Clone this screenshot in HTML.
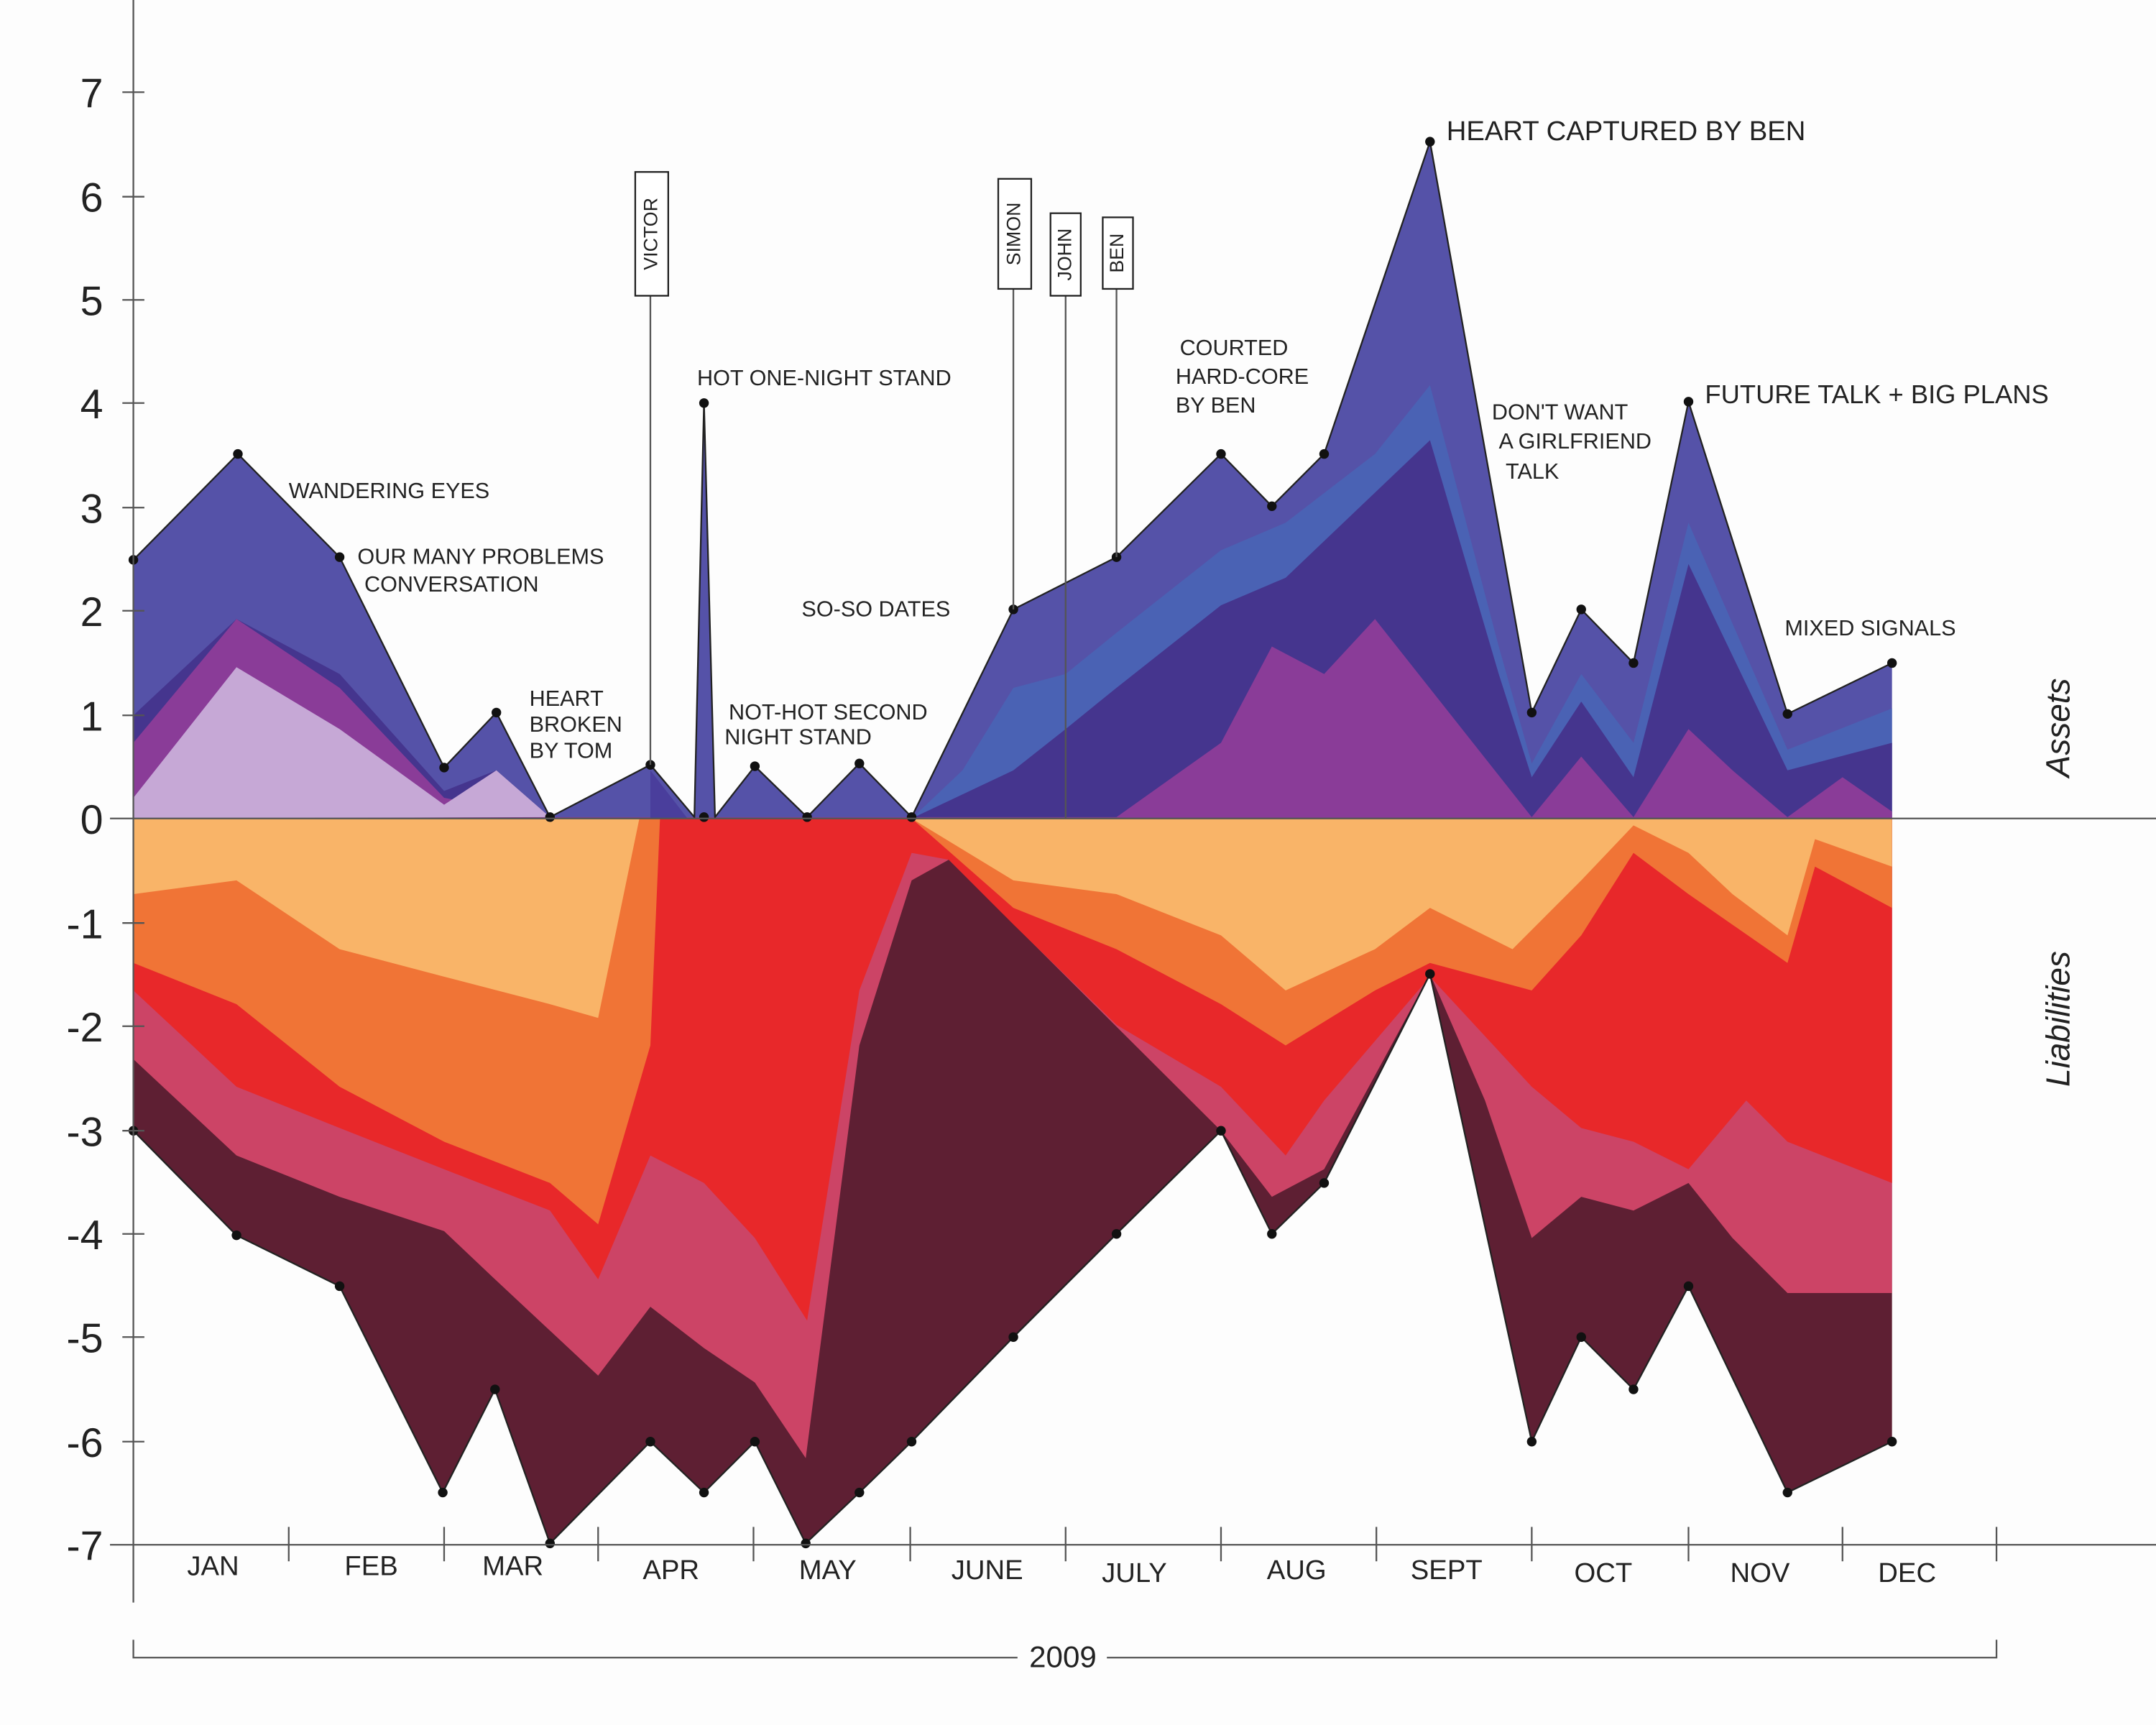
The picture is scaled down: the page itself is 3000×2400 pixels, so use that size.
<!DOCTYPE html><html><head><style>body{margin:0;background:#fff}svg{display:block}text{font-family:"Liberation Sans",sans-serif;fill:#222}</style></head><body>
<svg width="3000" height="2400" viewBox="0 0 1568 1254" preserveAspectRatio="none" xmlns="http://www.w3.org/2000/svg">
<rect width="1568" height="1254" fill="#fdfdfd"/>
<!-- assets -->
<polygon fill="#5552a8" points="97,595 97,407 173,330 247,405 323,558 361,518 400,594 473,556 505,594 512,293 520,594 549,557 587,594 625,555 663,594 737,443 812,405 888,330 925,368 963,330 1040,103 1114,518 1150,443 1188,482 1228,292 1300,519 1376,482 1376,595"/>
<polygon fill="#4a62b4" points="663,595 700,560 737,500 775,490 812,460 888,400 935,380 1000,330 1040,280 1090,470 1114,555 1150,490 1188,540 1228,380 1300,545 1376,515 1376,595"/>
<polygon fill="#45358e" points="97,595 97,520 172,450 247,490 323,575 361,560 400,594 663,595 737,560 775,530 812,500 888,440 935,420 1040,320 1090,490 1114,565 1150,510 1188,565 1228,410 1300,560 1376,540 1376,595"/>
<polygon fill="#8a3c98" points="97,595 97,540 172,450 247,500 323,580 400,594 812,594 888,540 925,470 963,490 1000,450 1114,594 1150,550 1188,594 1228,530 1260,560 1300,594 1340,565 1376,590 1376,595"/>
<polygon fill="#c6a8d6" points="97,595 97,580 172,485 247,530 323,585 361,560 400,594"/>
<polygon fill="#4a3e9c" points="473,595 473,560 500,595"/>
<!-- liabilities -->
<polygon fill="#5e1f33" points="97,595 97,822 172,898 247,935 322,1085 360,1010 400,1122 473,1048 512,1085 549,1048 586,1122 625,1085 663,1048 737,972 812,897 888,822 925,897 963,860 1040,708 1114,1048 1150,972 1188,1010 1228,935 1300,1085 1376,1048 1376,595"/>
<polygon fill="#cc4466" points="97,595 97,770 172,840 247,870 323,895 360,930 435,1000 473,950 512,980 549,1005 586,1060 625,760 663,640 690,625 888,822 925,870 963,850 1040,708 1080,800 1114,900 1150,870 1188,880 1228,860 1260,900 1300,940 1376,940 1376,595"/>
<polygon fill="#e8282a" points="97,595 97,720 172,790 247,820 323,850 400,880 435,930 473,840 512,860 549,900 587,960 625,720 663,620 690,625 737,672 812,745 888,790 935,840 963,800 1040,710 1114,790 1150,820 1188,830 1228,850 1270,800 1300,830 1376,860 1376,595"/>
<polygon fill="#f07436" points="97,595 97,700 172,730 247,790 323,830 400,860 435,890 473,760 480,595 663,595 737,660 812,690 888,730 935,760 1000,720 1040,700 1114,720 1150,680 1188,620 1228,650 1300,700 1320,630 1376,660 1376,595"/>
<polygon fill="#f9b468" points="97,595 97,650 172,640 247,690 323,710 400,730 435,740 465,595 663,595 737,640 812,650 888,680 935,720 1000,690 1040,660 1100,690 1150,640 1188,600 1228,620 1260,650 1300,680 1320,610 1376,630 1376,595"/>
<!-- envelope lines -->
<polyline fill="none" stroke="#222" stroke-width="1.2" points="97,407 173,330 247,405 323,558 361,518 400,594 473,556 505,594 512,293 520,594 549,557 587,594 625,555 663,594 737,443 812,405 888,330 925,368 963,330 1040,103 1114,518 1150,443 1188,482 1228,292 1300,519 1376,482"/>
<polyline fill="none" stroke="#222" stroke-width="1.2" points="97,822 172,898 247,935 322,1085 360,1010 400,1122 473,1048 512,1085 549,1048 586,1122 625,1085 663,1048 737,972 812,897 888,822 925,897 963,860 1040,708 1114,1048 1150,972 1188,1010 1228,935 1300,1085 1376,1048"/>
<g fill="#111">
<circle cx="97" cy="407" r="3.5"/><circle cx="173" cy="330" r="3.5"/><circle cx="247" cy="405" r="3.5"/><circle cx="323" cy="558" r="3.5"/><circle cx="361" cy="518" r="3.5"/><circle cx="400" cy="594" r="3.5"/><circle cx="473" cy="556" r="3.5"/><circle cx="512" cy="293" r="3.5"/><circle cx="512" cy="594" r="3.5"/><circle cx="549" cy="557" r="3.5"/><circle cx="587" cy="594" r="3.5"/><circle cx="625" cy="555" r="3.5"/><circle cx="663" cy="594" r="3.5"/><circle cx="737" cy="443" r="3.5"/><circle cx="812" cy="405" r="3.5"/><circle cx="888" cy="330" r="3.5"/><circle cx="925" cy="368" r="3.5"/><circle cx="963" cy="330" r="3.5"/><circle cx="1040" cy="103" r="3.5"/><circle cx="1114" cy="518" r="3.5"/><circle cx="1150" cy="443" r="3.5"/><circle cx="1188" cy="482" r="3.5"/><circle cx="1228" cy="292" r="3.5"/><circle cx="1300" cy="519" r="3.5"/><circle cx="1376" cy="482" r="3.5"/>
<circle cx="97" cy="822" r="3.5"/><circle cx="172" cy="898" r="3.5"/><circle cx="247" cy="935" r="3.5"/><circle cx="322" cy="1085" r="3.5"/><circle cx="360" cy="1010" r="3.5"/><circle cx="400" cy="1122" r="3.5"/><circle cx="473" cy="1048" r="3.5"/><circle cx="512" cy="1085" r="3.5"/><circle cx="549" cy="1048" r="3.5"/><circle cx="586" cy="1122" r="3.5"/><circle cx="625" cy="1085" r="3.5"/><circle cx="663" cy="1048" r="3.5"/><circle cx="737" cy="972" r="3.5"/><circle cx="812" cy="897" r="3.5"/><circle cx="888" cy="822" r="3.5"/><circle cx="925" cy="897" r="3.5"/><circle cx="963" cy="860" r="3.5"/><circle cx="1040" cy="708" r="3.5"/><circle cx="1114" cy="1048" r="3.5"/><circle cx="1150" cy="972" r="3.5"/><circle cx="1188" cy="1010" r="3.5"/><circle cx="1228" cy="935" r="3.5"/><circle cx="1300" cy="1085" r="3.5"/><circle cx="1376" cy="1048" r="3.5"/>
</g>
<!-- axes -->
<g stroke="#555" stroke-width="1.2">
<line x1="97" y1="0" x2="97" y2="1165"/>
<line x1="80" y1="595" x2="1568" y2="595"/>
<line x1="80" y1="1123" x2="1568" y2="1123"/>
<line x1="89" y1="67" x2="105" y2="67"/><line x1="89" y1="143" x2="105" y2="143"/><line x1="89" y1="218" x2="105" y2="218"/><line x1="89" y1="293" x2="105" y2="293"/><line x1="89" y1="369" x2="105" y2="369"/><line x1="89" y1="444" x2="105" y2="444"/><line x1="89" y1="520" x2="105" y2="520"/>
<line x1="89" y1="671" x2="105" y2="671"/><line x1="89" y1="746" x2="105" y2="746"/><line x1="89" y1="822" x2="105" y2="822"/><line x1="89" y1="897" x2="105" y2="897"/><line x1="89" y1="972" x2="105" y2="972"/><line x1="89" y1="1048" x2="105" y2="1048"/>
<line x1="210" y1="1110" x2="210" y2="1135"/><line x1="323" y1="1110" x2="323" y2="1135"/><line x1="435" y1="1110" x2="435" y2="1135"/><line x1="548" y1="1110" x2="548" y2="1135"/><line x1="662" y1="1110" x2="662" y2="1135"/><line x1="775" y1="1110" x2="775" y2="1135"/><line x1="888" y1="1110" x2="888" y2="1135"/><line x1="1001" y1="1110" x2="1001" y2="1135"/><line x1="1114" y1="1110" x2="1114" y2="1135"/><line x1="1228" y1="1110" x2="1228" y2="1135"/><line x1="1340" y1="1110" x2="1340" y2="1135"/><line x1="1452" y1="1110" x2="1452" y2="1135"/>
<polyline fill="none" points="97,1192 97,1205 740,1205"/><polyline fill="none" points="805,1205 1452,1205 1452,1192"/>
<line x1="473" y1="215" x2="473" y2="556"/><line x1="737" y1="210" x2="737" y2="443"/><line x1="775" y1="215" x2="775" y2="595"/><line x1="812" y1="210" x2="812" y2="405"/>
</g>
<g fill="#fff" stroke="#222" stroke-width="1.2">
<rect x="462" y="125" width="24" height="90"/><rect x="726" y="130" width="24" height="80"/><rect x="764" y="155" width="22" height="60"/><rect x="802" y="158" width="22" height="52"/>
</g>
<g font-size="14">
<text x="478" y="170" transform="rotate(-90 478 170)" text-anchor="middle">VICTOR</text>
<text x="742" y="170" transform="rotate(-90 742 170)" text-anchor="middle">SIMON</text>
<text x="779" y="185" transform="rotate(-90 779 185)" text-anchor="middle">JOHN</text>
<text x="817" y="184" transform="rotate(-90 817 184)" text-anchor="middle">BEN</text>
</g>
<g font-size="30" text-anchor="end">
<text x="75" y="78">7</text><text x="75" y="154">6</text><text x="75" y="229">5</text><text x="75" y="304">4</text><text x="75" y="380">3</text><text x="75" y="455">2</text><text x="75" y="531">1</text><text x="75" y="606">0</text><text x="75" y="682">-1</text><text x="75" y="757">-2</text><text x="75" y="833">-3</text><text x="75" y="908">-4</text><text x="75" y="983">-5</text><text x="75" y="1059">-6</text><text x="75" y="1134">-7</text>
</g>
<g font-size="20" text-anchor="middle">
<text x="155" y="1145">JAN</text><text x="270" y="1145">FEB</text><text x="373" y="1145">MAR</text><text x="488" y="1148">APR</text><text x="602" y="1148">MAY</text><text x="718" y="1148">JUNE</text><text x="825" y="1150">JULY</text><text x="943" y="1148">AUG</text><text x="1052" y="1148">SEPT</text><text x="1166" y="1150">OCT</text><text x="1280" y="1150">NOV</text><text x="1387" y="1150">DEC</text>
<text x="773" y="1212" font-size="22">2009</text>
</g>
<g font-size="16">
<text x="210" y="362">WANDERING EYES</text>
<text x="260" y="410">OUR MANY PROBLEMS</text><text x="265" y="430">CONVERSATION</text>
<text x="385" y="513">HEART</text><text x="385" y="532">BROKEN</text><text x="385" y="551">BY TOM</text>
<text x="507" y="280">HOT ONE-NIGHT STAND</text>
<text x="530" y="523">NOT-HOT SECOND</text><text x="527" y="541">NIGHT STAND</text>
<text x="583" y="448">SO-SO DATES</text>
<text x="858" y="258">COURTED</text><text x="855" y="279">HARD-CORE</text><text x="855" y="300">BY BEN</text>
<text x="1052" y="102" font-size="20">HEART CAPTURED BY BEN</text>
<text x="1085" y="305">DON'T WANT</text><text x="1090" y="326">A GIRLFRIEND</text><text x="1095" y="348">TALK</text>
<text x="1240" y="293" font-size="19">FUTURE TALK + BIG PLANS</text>
<text x="1298" y="462">MIXED SIGNALS</text>
</g>
<g font-size="24" font-style="italic" fill="#555">
<text x="1505" y="565" transform="rotate(-90 1505 565)">Assets</text>
<text x="1505" y="790" transform="rotate(-90 1505 790)">Liabilities</text>
</g>
</svg>
</body></html>
